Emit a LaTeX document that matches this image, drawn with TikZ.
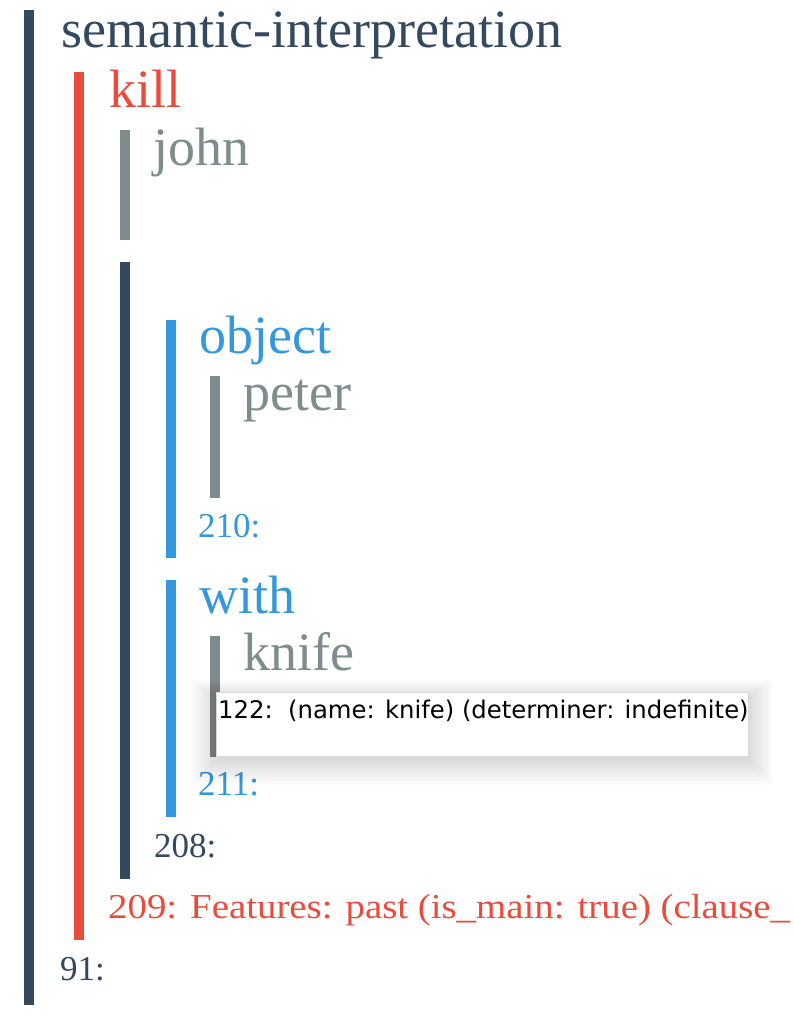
\documentclass[tikz,border=0pt]{standalone}
\usepackage{fontspec}
\setmainfont{Liberation Serif}
\newfontfamily\tipfont{DejaVu Sans}
\begin{document}
\begin{tikzpicture}[x=1pt,y=-1pt]
    \definecolor{sem_navy}{HTML}{34495E}
    \definecolor{sem_red}{HTML}{E74C3C}
    \definecolor{sem_gray}{HTML}{7F8C8D}
    \definecolor{sem_blue}{HTML}{3498DB}
    \tikzset{
      bar/.style={shape=rectangle,inner sep=0pt,minimum width=10pt},
      word/.style={anchor=base west,inner sep=0pt,font=\fontsize{54}{54}\selectfont},
      tag/.style={anchor=base west,inner sep=0pt,font=\fontsize{35}{35}\selectfont}
    }
    \clip (0,0) rectangle (794,1016);
    \fill[white] (0,0) rectangle (794,1016);
    % bars
    \node[bar,fill=sem_navy,minimum height=995pt] (barroot) at (29,507.5) {};
    \node[bar,fill=sem_red,minimum height=868pt] (barkill) at (79,506) {};
    \node[bar,fill=sem_gray,minimum height=110pt] (barjohn) at (125,185) {};
    \node[bar,fill=sem_navy,minimum height=617pt] (barargs) at (125,570.5) {};
    \node[bar,fill=sem_blue,minimum height=238pt] (barobject) at (171,439) {};
    \node[bar,fill=sem_gray,minimum height=122pt] (barpeter) at (215,437) {};
    \node[bar,fill=sem_blue,minimum height=237pt] (barwith) at (171,698.5) {};
    \node[bar,fill=sem_gray,minimum height=121pt] (barknife) at (215,696.5) {};
    % labels
    \node[word,text=sem_navy] (root) at (61,48) {semantic-interpretation};
    \node[word,text=sem_red] (kill) at (109,108) {kill};
    \node[word,text=sem_gray] (john) at (153,166) {john};
    \node[word,text=sem_blue] (object) at (199,353) {object};
    \node[word,text=sem_gray] (peter) at (243,410) {peter};
    \node[tag,text=sem_blue] (idobject) at (198,537) {210:};
    \node[word,text=sem_blue] (with) at (199,613) {with};
    \node[word,text=sem_gray] (knife) at (243,670) {knife};
    \node[tag,text=sem_blue] (idwith) at (198,795) {211:};
    \node[tag,text=sem_navy] (idargs) at (154,857) {208:};
    \node[tag,text=sem_red] (idkill) at (108,918) {\scalebox{1.11}[1]{209: Features: past (is\_main: true) (clause\_}};
    \node[tag,text=sem_navy] (idroot) at (60,980) {91:};
    % tooltip with soft shadow
    \foreach \s in {1,...,18}
      \fill[black,opacity=0.0065] (216-1.4*\s,692-\s+6) rectangle (748+1.4*\s,756+1.4*\s+4);
    \node[shape=rectangle,draw=black!15,fill=white,line width=0.6pt,minimum width=532pt,minimum height=64pt] (tip) at (482,724) {};
    \node[anchor=base west,inner sep=0pt,font=\tipfont\fontsize{24.3}{24.3}\selectfont] (tiptext) at (218,718) {122:\ \ (name: knife) (determiner: indefinite)};
\end{tikzpicture}
\end{document}
